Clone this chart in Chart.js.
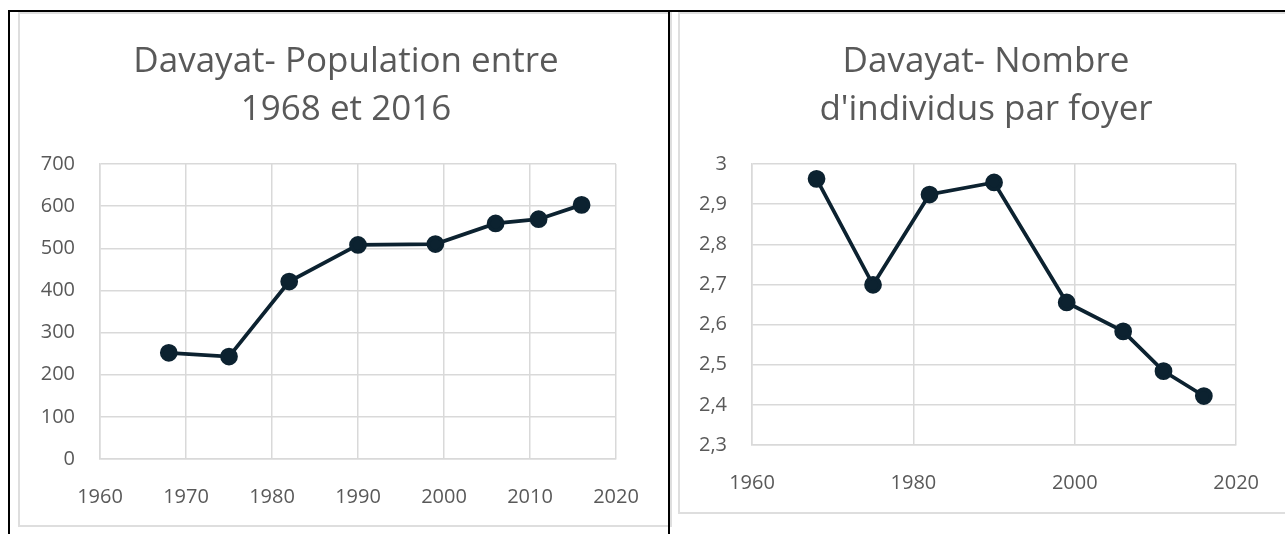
<!DOCTYPE html>
<html lang="fr">
<head>
<meta charset="utf-8">
<title>Davayat</title>
<script src="https://cdn.jsdelivr.net/npm/chart.js@4.4.1/dist/chart.umd.min.js"></script>
<style>
    body { margin: 0; background: #fff; width: 1285px; height: 534px; overflow: hidden; position: relative; }
    canvas, .box, .rule { position: absolute; }
    .box { border: 2px solid #dedede; box-sizing: border-box; }
    .rule { background: #000; }
</style>
</head>
<body>
<div class="box" style="left:18px; top:12px; width:654px; height:515px;"></div>
<div class="box" style="left:678px; top:12px; width:620px; height:502px;"></div>
<canvas id="pop-chart" width="640" height="534" style="left:30px; top:0;"></canvas>
<canvas id="menage-chart" width="593" height="534" style="left:692px; top:0;"></canvas>
<div class="rule" style="left:8px; top:10px; width:1277px; height:2px;"></div>
<div class="rule" style="left:8px; top:10px; width:2px; height:524px;"></div>
<div class="rule" style="left:668px; top:10px; width:2px; height:524px;"></div>
<script>
const years = [1968, 1975, 1982, 1990, 1999, 2006, 2011, 2016];
const population = [252, 243, 421, 508, 510, 559, 569, 603];
const personsPerHome = [2.963, 2.699, 2.924, 2.954, 2.655, 2.583, 2.484, 2.422];

const popTitle = ['Davayat- Population entre', '1968 et 2016'];
const menageTitle = ['Davayat- Nombre', "d'individus par foyer"];

const textColor = '#595959';
const gridColor = '#d9d9d9';
const lineColor = '#0c2230';
const fontFamily = '"Open Sans", "Noto Sans", sans-serif';

// opts: sizes of the boxes around the plot area, so the title lands where it should
function makeChart(id, title, values, opts) {
    const ctx = document.getElementById(id).getContext('2d');
    return new Chart(ctx, {
        type: 'line',
        data: {
            datasets: [{
                data: years.map((year, i) => ({ x: year, y: values[i] })),
                borderColor: lineColor,
                backgroundColor: lineColor,
                borderWidth: 3.75,
                pointRadius: 7,
                pointHoverRadius: 7,
                tension: 0
            }]
        },
        options: {
            responsive: false,
            animation: false,
            layout: { padding: { left: 0, right: opts.padRight, top: 0, bottom: 0 } },
            plugins: {
                legend: { display: false },
                tooltip: { enabled: false },
                title: {
                    display: true,
                    text: title,
                    color: textColor,
                    font: { family: fontFamily, size: 35, weight: 'normal', lineHeight: 48 / 35 },
                    padding: { top: 38.5, bottom: 29.5 }
                }
            },
            scales: {
                x: {
                    type: 'linear',
                    min: 1960,
                    max: 2020,
                    afterFit: scale => { scale.height = opts.xHeight; },
                    ticks: {
                        stepSize: opts.xStep,
                        color: textColor,
                        padding: 26,
                        font: { family: fontFamily, size: 20 },
                        callback: v => String(v)
                    },
                    grid: { color: gridColor, lineWidth: 1.5, drawTicks: false },
                    border: { color: gridColor, width: 1.5 }
                },
                y: {
                    min: opts.yMin,
                    max: opts.yMax,
                    afterFit: scale => { scale.width = opts.yWidth; },
                    ticks: {
                        stepSize: opts.yStep,
                        color: textColor,
                        padding: 25,
                        font: { family: fontFamily, size: 20 },
                        callback: opts.yFormat
                    },
                    grid: { color: gridColor, lineWidth: 1.5, drawTicks: false },
                    border: { color: gridColor, width: 1.5 }
                },
                // empty right-hand box, only there to keep space
                spacer: {
                    position: 'right',
                    afterFit: scale => { scale.width = opts.spacer; },
                    ticks: { display: false },
                    grid: { display: false },
                    border: { display: false }
                }
            }
        }
    });
}

makeChart('pop-chart', popTitle, population, {
    yWidth: 70, spacer: 46, padRight: 8, xHeight: 75,
    xStep: 10, yMin: 0, yMax: 700, yStep: 100,
    yFormat: v => String(v)
});

makeChart('menage-chart', menageTitle, personsPerHome, {
    yWidth: 60, spacer: 42, padRight: 5, xHeight: 89,
    xStep: 20, yMin: 2.3, yMax: 3, yStep: 0.1,
    yFormat: v => String(Number(v.toFixed(1))).replace('.', ',')
});
</script>
</body>
</html>
